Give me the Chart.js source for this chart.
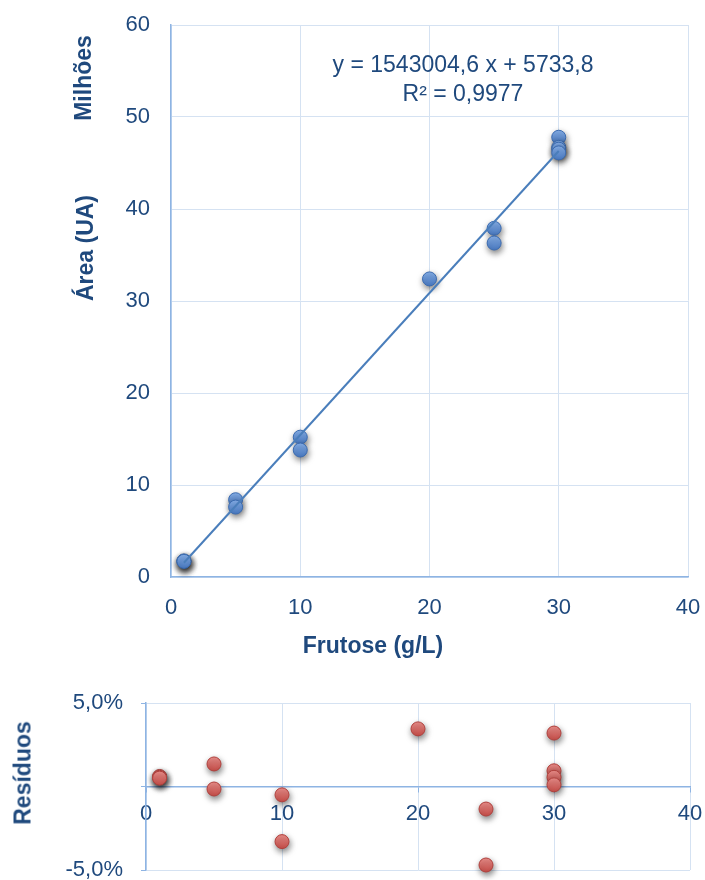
<!DOCTYPE html>
<html>
<head>
<meta charset="utf-8">
<script src="https://cdn.jsdelivr.net/npm/chart.js@4.4.1/dist/chart.umd.min.js"></script>
<style>
    body { margin: 0; width: 705px; height: 880px; position: relative; background: #fff; overflow: hidden;
           font-family: "Liberation Sans", Arial, sans-serif; color: #1F497D; }
    #top { position: absolute; left: 0; top: 0; }
    #bot { position: absolute; left: 0; top: 680px; }
    .rot { position: absolute; font-weight: bold; font-size: 23px; white-space: nowrap;
           transform: translate(-50%, -50%) rotate(-90deg); }
    .ttl { position: absolute; font-weight: bold; font-size: 23px; white-space: nowrap;
           transform: translate(-50%, -50%); }
    .eq { position: absolute; left: 463px; top: 50px; transform: translateX(-50%);
          font-size: 23px; text-align: center; line-height: 29px; white-space: nowrap; }
</style>
</head>
<body>
<canvas id="top" width="705" height="660"></canvas>
<canvas id="bot" width="705" height="200"></canvas>
<div class="rot" style="left:83px; top:78px;">Milhões</div>
<div class="rot" style="left:85px; top:248px;">Área (UA)</div>
<div class="ttl" style="left:373px; top:645px;">Frutose (g/L)</div>
<div class="rot" style="left:23px; top:773px;">Resíduos</div>
<div class="eq">y = 1543004,6 x + 5733,8<br>R² = 0,9977</div>
<script>
// Calibration points: concentration (g/L) vs area (millions UA)
const concX = [1, 1, 1, 5, 5, 10, 10, 20, 25, 25, 30, 30, 30, 30];
const areaY = [1.75, 1.7, 1.7, 8.4, 7.6, 15.2, 13.8, 32.4, 37.9, 36.3, 47.8, 46.7, 46.5, 46.1];

// Trendline ends
const trendX = [1, 30];
const trendY = [1.55, 46.3];

// Residuals (%)
const residX = [1, 1, 1, 5, 5, 10, 10, 20, 25, 25, 30, 30, 30, 30];
const residY = [0.6, 0.55, 0.5, 1.35, -0.15, -0.5, -3.3, 3.45, -1.35, -4.7, 3.2, 0.94, 0.55, 0.1];

const TXT = '#1F497D';
const GRID = '#D5E2F2';
const AXIS = '#8EB4E3';
const FONT = 'Liberation Sans';

// Excel-like drop shadow under the markers
const shadowPlugin = {
    id: 'shadow',
    beforeDatasetDraw(chart, args) {
        if (!chart.data.datasets[args.index].shadow) return;
        const ctx = chart.ctx;
        ctx.save();
        ctx.shadowColor = 'rgba(0,0,0,0.5)';
        ctx.shadowBlur = 6;
        ctx.shadowOffsetX = 1;
        ctx.shadowOffsetY = 3;
    },
    afterDatasetDraw(chart, args) {
        if (!chart.data.datasets[args.index].shadow) return;
        chart.ctx.restore();
    }
};

const pts = (xs, ys) => xs.map((x, i) => ({ x, y: ys[i] }));

// glossy marker fill: light on top, darker at the bottom
function markerFill(light, dark) {
    return c => {
        if (c.type !== 'data' || !c.parsed) return dark;
        const y = c.chart.scales.y.getPixelForValue(c.parsed.y);
        if (!isFinite(y)) return dark;
        const g = c.chart.ctx.createLinearGradient(0, y - 7, 0, y + 7);
        g.addColorStop(0, light);
        g.addColorStop(1, dark);
        return g;
    };
}

// tick padding leaks into the layout, so drop the label overhang padding
// and let layout.padding alone place the plot area
const noPad = s => { s.paddingTop = 0; s.paddingBottom = 0; s.paddingLeft = 0; s.paddingRight = 0; };

new Chart(document.getElementById('top'), {
    type: 'scatter',
    data: {
        datasets: [
            {
                data: pts(trendX, trendY),
                showLine: true,
                borderColor: '#4A7EBB',
                borderWidth: 2,
                pointRadius: 0,
                order: 0
            },
            {
                data: pts(concX, areaY),
                backgroundColor: markerFill('#86B0EA', '#4A7BC4'),
                borderColor: '#3B6BB0',
                borderWidth: 1,
                pointRadius: 7,
                shadow: true,
                clip: false,
                order: 1
            }
        ]
    },
    options: {
        responsive: false,
        animation: false,
        layout: { padding: { top: 25, right: 17, left: 0, bottom: 0 } },
        plugins: { legend: { display: false }, tooltip: { enabled: false } },
        scales: {
            x: {
                min: 0, max: 40,
                afterFit: s => { noPad(s); s.height = 83; },
                ticks: { stepSize: 10, color: TXT, padding: 18, font: { family: FONT, size: 22 } },
                grid: { color: GRID, drawTicks: false },
                border: { color: AXIS, width: 1.5 }
            },
            y: {
                min: 0, max: 60,
                afterFit: s => { noPad(s); s.width = 171; },
                ticks: { stepSize: 10, color: TXT, padding: 21, font: { family: FONT, size: 22 } },
                grid: { color: GRID, drawTicks: false },
                border: { color: AXIS, width: 1.5 }
            }
        }
    },
    plugins: [shadowPlugin]
});

new Chart(document.getElementById('bot'), {
    type: 'scatter',
    data: {
        datasets: [{
            data: pts(residX, residY),
            backgroundColor: markerFill('#EC8F8B', '#C84E49'),
            borderColor: '#B0403C',
            borderWidth: 1,
            pointRadius: 7,
            shadow: true,
            clip: false
        }]
    },
    options: {
        responsive: false,
        animation: false,
        layout: { padding: { top: 23, right: 15, left: 0, bottom: 10 } },
        plugins: { legend: { display: false }, tooltip: { enabled: false } },
        scales: {
            x: {
                min: 0, max: 40,
                position: { y: 0 },
                afterFit: noPad,
                ticks: { stepSize: 10, color: TXT, padding: 9, font: { family: FONT, size: 22 } },
                grid: { color: GRID, tickColor: AXIS, tickLength: 5 },
                border: { color: AXIS, width: 1.5 }
            },
            y: {
                min: -5, max: 5,
                afterFit: s => { noPad(s); s.width = 146; },
                ticks: {
                    stepSize: 5, color: TXT, padding: 18, font: { family: FONT, size: 22 },
                    callback: v => v === 0 ? '' : v.toFixed(1).replace('.', ',') + '%'
                },
                grid: { color: GRID, tickColor: AXIS, tickLength: 5 },
                border: { color: AXIS, width: 1.5 }
            }
        }
    },
    plugins: [shadowPlugin]
});
</script>
</body>
</html>
